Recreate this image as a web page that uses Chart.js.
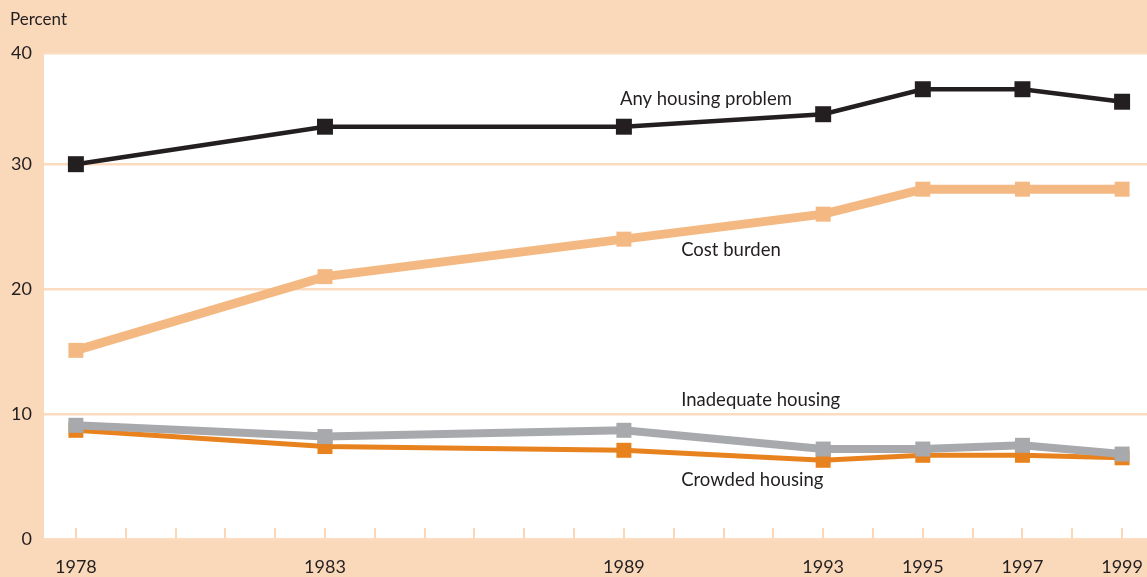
<!DOCTYPE html>
<html>
<head>
<meta charset="utf-8">
<script src="https://cdn.jsdelivr.net/npm/chart.js@4.4.0/dist/chart.umd.min.js"></script>
<style>
  html, body { margin: 0; padding: 0; background: #fad9bb; }
  #wrap { width: 1147px; height: 577px; position: relative; }
</style>
</head>
<body>
<div id="wrap"><canvas id="housingChart"></canvas></div>
<script>
// Survey years and share of households (percent) with each problem
const years = [1978, 1983, 1989, 1993, 1995, 1997, 1999];
const anyProblem = [30.0, 33.0, 33.0, 34.0, 36.0, 36.0, 35.0];
const costBurden = [15.1, 21.0, 24.0, 26.0, 28.0, 28.0, 28.0];
const inadequate = [9.1, 8.2, 8.7, 7.2, 7.2, 7.5, 6.8];
const crowded = [8.7, 7.4, 7.1, 6.3, 6.7, 6.7, 6.5];

// Axis labels
const yearLabels = [1978, 1983, 1989, 1993, 1995, 1997, 1999];
const yTickValues = [0, 10, 20, 30, 40];

// Line captions, placed in data units (year, percent)
const captions = [
  { text: 'Any housing problem', year: 1988.92, pct: 35.2 },
  { text: 'Cost burden', year: 1990.15, pct: 23.1 },
  { text: 'Inadequate housing', year: 1990.15, pct: 11.1 },
  { text: 'Crowded housing', year: 1990.15, pct: 4.7 }
];

const PEACH = '#fad9bb';
const TEXT = '#231f20';
const FONT = 'Lato, "Noto Sans", sans-serif';
const Y_TOP = 38.9; // plot area is cut just under the 40 line

const toPoints = (vals) => vals.map((v, i) => ({ x: years[i], y: v }));

// Paint the peach frame, white plot area, inner year ticks and text
const decorPlugin = {
  id: 'decor',
  beforeDraw(chart) {
    const { ctx, chartArea: a } = chart;
    ctx.save();
    ctx.fillStyle = PEACH;
    ctx.fillRect(0, 0, chart.width, chart.height);
    ctx.fillStyle = '#ffffff';
    ctx.fillRect(a.left, a.top, a.right - a.left, a.bottom - a.top);
    ctx.restore();
  },
  afterDraw(chart) {
    const { ctx, chartArea: a, scales } = chart;
    ctx.save();
    // small tick marks for every year, drawn up from the bottom
    ctx.strokeStyle = '#fbd7b6';
    ctx.lineWidth = 2;
    for (let yr = 1978; yr <= 1999; yr++) {
      const x = Math.round(scales.x.getPixelForValue(yr));
      ctx.beginPath();
      ctx.moveTo(x, a.bottom);
      ctx.lineTo(x, a.bottom - 11);
      ctx.stroke();
    }
    // "Percent" axis caption
    ctx.fillStyle = TEXT;
    ctx.font = '17px ' + FONT;
    ctx.textBaseline = 'middle';
    ctx.textAlign = 'left';
    ctx.fillText('Percent', 10, 20);
    // series captions
    ctx.font = '18.5px ' + FONT;
    captions.forEach(c => {
      ctx.fillText(c.text, scales.x.getPixelForValue(c.year), scales.y.getPixelForValue(c.pct));
    });
    ctx.restore();
  }
};

const ctx = document.getElementById('housingChart').getContext('2d');
new Chart(ctx, {
  type: 'line',
  data: {
    datasets: [
      {
        label: 'Any housing problem',
        data: toPoints(anyProblem),
        borderColor: '#231f20',
        backgroundColor: '#231f20',
        borderWidth: 4.5,
        pointStyle: 'rect',
        pointRadius: 11.3,
        pointBorderWidth: 0,
        order: 0
      },
      {
        label: 'Cost burden',
        data: toPoints(costBurden),
        borderColor: '#f4b982',
        backgroundColor: '#f4b982',
        borderWidth: 9,
        pointStyle: 'rect',
        pointRadius: 10.6,
        pointBorderWidth: 0,
        order: 1
      },
      {
        label: 'Inadequate housing',
        data: toPoints(inadequate),
        borderColor: '#a7a9ac',
        backgroundColor: '#a7a9ac',
        borderWidth: 8,
        pointStyle: 'rect',
        pointRadius: 10.6,
        pointBorderWidth: 0,
        order: 2
      },
      {
        label: 'Crowded housing',
        data: toPoints(crowded),
        borderColor: '#e8821e',
        backgroundColor: '#e8821e',
        borderWidth: 5,
        pointStyle: 'rect',
        pointRadius: 10.6,
        pointBorderWidth: 0,
        order: 3
      }
    ]
  },
  options: {
    responsive: true,
    maintainAspectRatio: false,
    animation: false,
    layout: { autoPadding: false, padding: { top: 53, right: 0, left: 0, bottom: 0 } },
    plugins: {
      legend: { display: false },
      tooltip: { enabled: false }
    },
    scales: {
      x: {
        type: 'linear',
        min: 1977.36,
        max: 1999.5,
        afterBuildTicks(scale) {
          const t = [];
          for (let yr = 1978; yr <= 1999; yr++) t.push({ value: yr });
          scale.ticks = t;
        },
        afterFit(scale) {
          scale.height = 38;
          // let the plot run to the right edge like the original
          scale.paddingLeft = 0;
          scale.paddingRight = 0;
        },
        grid: { display: false, drawTicks: false },
        border: { display: false },
        ticks: {
          autoSkip: false,
          maxRotation: 0,
          padding: 17,
          color: TEXT,
          font: { family: FONT, size: 18 },
          callback: (v) => (yearLabels.includes(v) ? String(v) : '')
        }
      },
      y: {
        min: 0,
        max: Y_TOP,
        afterBuildTicks(scale) {
          scale.ticks = yTickValues.map(v => ({ value: Math.min(v, Y_TOP) }));
        },
        afterFit(scale) { scale.width = 44; },
        grid: {
          color: '#fbdcc0',
          lineWidth: 2.5,
          drawTicks: false
        },
        border: { display: false },
        ticks: {
          padding: 12,
          color: TEXT,
          font: { family: FONT, size: 18 },
          callback: (v) => (v >= Y_TOP ? '40' : String(v))
        }
      }
    }
  },
  plugins: [decorPlugin]
});
</script>
</body>
</html>
